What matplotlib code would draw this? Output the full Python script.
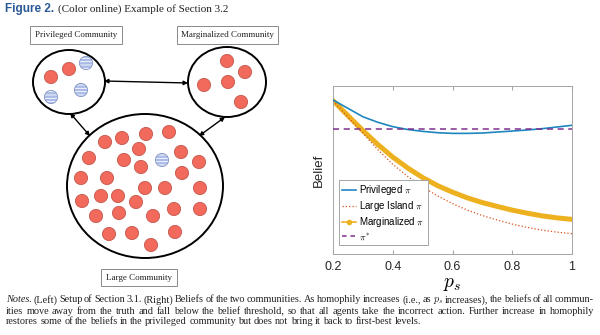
import numpy as np
import matplotlib
matplotlib.use("Agg")
import matplotlib.pyplot as plt
from matplotlib.patches import Circle, Ellipse
from matplotlib.lines import Line2D

plt.rcParams['mathtext.fontset'] = 'cm'

# --- chart data (belief vs p_s) ---
ps = [0.2, 0.25, 0.3, 0.35, 0.4, 0.45, 0.5, 0.55, 0.6, 0.65, 0.7, 0.75, 0.8, 0.85, 0.9, 0.95, 1.0]
privileged = [0.917, 0.867, 0.817, 0.784, 0.758, 0.741, 0.730, 0.722, 0.718, 0.718,
              0.720, 0.726, 0.732, 0.738, 0.746, 0.756, 0.766]
large_island = [0.913, 0.814, 0.719, 0.621, 0.534, 0.462, 0.399, 0.346, 0.300, 0.261,
                0.229, 0.202, 0.178, 0.158, 0.142, 0.130, 0.121]
marginalized = [0.913, 0.824, 0.735, 0.652, 0.577, 0.512, 0.455, 0.407, 0.368, 0.334,
                0.306, 0.283, 0.261, 0.243, 0.227, 0.215, 0.206]
pi_star = 0.742
xticks = [0.2, 0.4, 0.6, 0.8, 1.0]
xticklabels = ['0.2', '0.4', '0.6', '0.8', '1']
legend_labels = ['Privileged $\\pi$', 'Large Island $\\pi$', 'Marginalized $\\pi$', '$\\pi^{*}$']

# --- diagram: communities (pixel positions in the figure) ---
communities = ['Privileged Community', 'Marginalized Community', 'Large Community']
community_centers = [(69, 82), (227, 82), (145, 186)]
community_sizes = [(72, 64), (78, 70), (156, 144)]
label_centers = [(76, 35), (227.5, 35), (139, 277.5)]
priv_red = [(51, 77), (69, 69)]
priv_blue = [(86, 63), (51, 97), (81, 90)]
marg_red = [(227, 61), (245, 72), (204, 85), (228, 82), (241, 102)]
large_red = [(105, 142), (122, 138), (146, 134), (169, 132), (89, 158), (124, 160), (139, 149),
             (181, 152), (199, 162), (141, 167), (81, 178), (107, 178), (182, 173), (145, 188),
             (165, 188), (200, 188), (82, 201), (101, 196), (118, 196), (136, 202), (96, 216),
             (119, 213), (153, 216), (174, 209), (200, 209), (109, 234), (132, 233), (175, 232),
             (151, 245)]
large_blue = [(162, 160)]
links = [((104, 81), (188, 83)), ((70, 113), (90, 136)), ((225, 117), (199, 136))]

caption = [
    [("Notes.", 'italic'), ("(Left)", 'normal'), ("Setup", 'normal'), ("of", 'normal'), ("Section", 'normal'),
     ("3.1.", 'normal'), ("(Right)", 'normal'), ("Beliefs", 'normal'), ("of", 'normal'), ("the", 'normal'),
     ("two", 'normal'), ("communities.", 'normal'), ("As", 'normal'), ("homophily", 'normal'),
     ("increases", 'normal'), ("(i.e.,", 'normal'), ("as", 'normal'), ("$p_s$", 'normal'),
     ("increases),", 'normal'), ("the", 'normal'), ("beliefs", 'normal'), ("of", 'normal'),
     ("all", 'normal'), ("commun-", 'normal')],
    [(w, 'normal') for w in "ities move away from the truth and fall below the belief threshold, so that all "
     "agents take the incorrect action. Further increase in homophily".split()],
    [(w, 'normal') for w in "restores some of the beliefs in the privileged community but does not bring "
     "it back to first-best levels.".split()],
]
caption_y = [300, 311, 322]

fig = plt.figure(figsize=(6, 3.35), dpi=100)
ax0 = fig.add_axes([0, 0, 1, 1])
ax0.set_xlim(0, 600)
ax0.set_ylim(335, 0)
ax0.axis('off')
renderer = fig.canvas.get_renderer()

# title
t1 = ax0.text(5, 9, "Figure 2.", fontsize=8.5, fontweight='bold', family='Liberation Sans',
              color='#2a5a95', va='center')
w1 = t1.get_window_extent(renderer).width
ax0.text(5 + w1 + 4, 9, "(Color online) Example of Section 3.2", fontsize=8,
         family='Liberation Serif', color='#222222', va='center')

# community circles
plt.rcParams['hatch.linewidth'] = 0.6
for (cx, cy), (w, h) in zip(community_centers, community_sizes):
    ax0.add_patch(Ellipse((cx, cy), w, h, facecolor='white', edgecolor='black', lw=1.4, zorder=2))
for name, (lx, ly) in zip(communities, label_centers):
    ax0.text(lx, ly, name, fontsize=6.5, family='Liberation Serif', ha='center', va='center',
             color='#222222',
             bbox=dict(boxstyle='square,pad=0.5', facecolor='white', edgecolor='#8a8a8a', lw=0.7))

for x, y in priv_red + marg_red + large_red:
    ax0.add_patch(Circle((x, y), 6.6, facecolor='#f26a5c', edgecolor='#c4584c', lw=0.6, zorder=3))
for x, y in priv_blue + large_blue:
    ax0.add_patch(Circle((x, y), 6.6, facecolor='#a9bbe6', edgecolor='white', hatch='-----',
                         lw=0, zorder=3))
    ax0.add_patch(Circle((x, y), 6.6, fill=False, edgecolor='#8595c4', lw=0.6, zorder=4))

for a, b in links:
    ax0.annotate('', xy=b, xytext=a,
                 arrowprops=dict(arrowstyle='<|-|>', color='black', lw=1.0, mutation_scale=6,
                                 shrinkA=0, shrinkB=0))

# caption, justified
for line, y in zip(caption, caption_y):
    objs = [ax0.text(0, y, w, fontsize=7.4, family='Liberation Serif', style=st, va='center',
                     color='#222222') for w, st in line]
    widths = [o.get_window_extent(renderer).width for o in objs]
    if line is caption[-1]:
        gap = 2.4
    else:
        gap = max(1.5, (594 - 6 - sum(widths)) / (len(objs) - 1))
    x = 6
    for o, w in zip(objs, widths):
        o.set_x(x)
        x += w + gap

# chart
ax = fig.add_axes([333 / 600, (335 - 254) / 335, 239 / 600, 168 / 335])
ax.plot(ps, privileged, color='#1f86c0', lw=1.2, zorder=4)
ax.plot(ps, large_island, color='#d95319', lw=0.9, ls=':', zorder=3)
ax.plot(ps, marginalized, color='#edb120', lw=3.6, solid_capstyle='round', zorder=2)
ax.axhline(pi_star, color='#7e2f8e', lw=1.1, ls=(0, (4, 3)), zorder=5)
ax.set_xlim(0.2, 1.0)
ax.set_ylim(0, 1)
ax.set_xticks(xticks)
ax.set_xticklabels(xticklabels, family='Liberation Sans')
ax.set_yticks([])
ax.tick_params(axis='x', direction='in', length=3, color='#a6a6a6', labelsize=9,
               labelcolor='#262626', pad=5, top=True)
for s in ax.spines.values():
    s.set_color('#a6a6a6')
    s.set_linewidth(0.7)
ax.set_xlabel('$p_s$', fontsize=14, labelpad=1)
ax.set_ylabel('Belief', fontsize=9.5, family='Liberation Sans', color='#262626', labelpad=6)

handles = [Line2D([], [], color='#1f86c0', lw=1.2),
           Line2D([], [], color='#d95319', lw=0.9, ls=':'),
           Line2D([], [], color='#edb120', lw=1.2, marker='o', ms=3),
           Line2D([], [], color='#7e2f8e', lw=1.1, ls=(0, (3, 2.5)))]
leg = ax.legend(handles, legend_labels, loc='lower left', bbox_to_anchor=(0.025, 0.054),
                borderaxespad=0, fancybox=False, framealpha=1, edgecolor='#a6a6a6',
                prop={'family': 'Liberation Sans', 'size': 7}, handlelength=1.5,
                handletextpad=0.3, labelspacing=0.2, borderpad=0.3)
leg.get_frame().set_linewidth(0.7)

fig.savefig('out.png', dpi=100)
